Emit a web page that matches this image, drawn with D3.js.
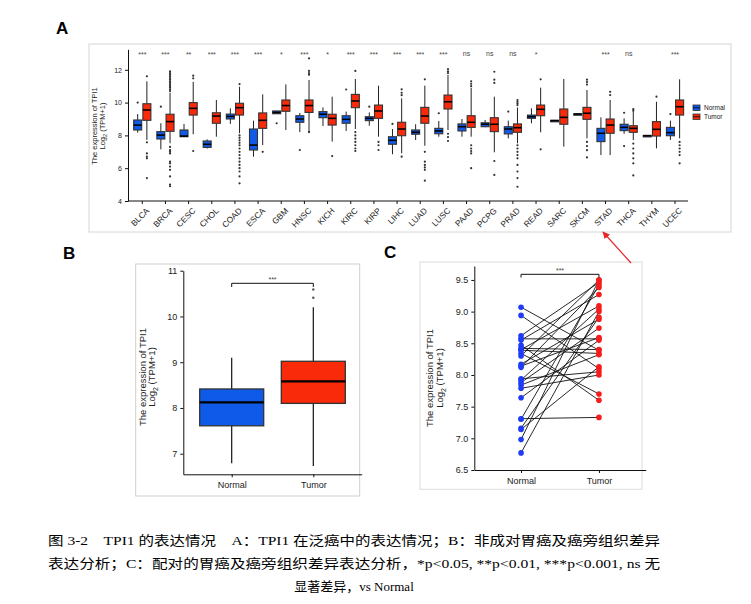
<!DOCTYPE html>
<html><head><meta charset="utf-8">
<script src="https://cdn.jsdelivr.net/npm/d3@7/dist/d3.min.js"></script>
<style>body{margin:0;background:#fff}svg{display:block}text{font-family:"Liberation Sans",Arial,sans-serif}</style>
</head><body><svg id="c" width="751" height="604"></svg>
<script>
// ---------- Panel A data ----------
const categories = ["BLCA","BRCA","CESC","CHOL","COAD","ESCA","GBM","HNSC","KICH","KIRC","KIRP","LIHC","LUAD","LUSC","PAAD","PCPG","PRAD","READ","SARC","SKCM","STAD","THCA","THYM","UCEC"];
const signif = ["***","***","**","***","***","***","*","***","*","***","***","***","***","***","ns","ns","ns","*","","","***","ns","","***"];
// [lower whisker, Q1, median, Q3, upper whisker]
const normalStats = [
 [8.17,8.33,8.63,8.94,9.3],[7.15,7.78,8.02,8.23,8.74],[7.9,7.92,7.96,8.33,8.7],[7.2,7.27,7.46,7.66,7.76],
 [8.7,9.0,9.16,9.3,9.65],[6.7,7.11,7.41,8.39,8.9],[9.32,9.32,9.4,9.49,9.49],[8.2,8.8,9.0,9.2,9.37],
 [8.57,9.08,9.29,9.45,9.71],[8.27,8.74,8.98,9.2,9.45],[8.59,8.9,9.04,9.14,9.4],[6.85,7.46,7.7,7.92,8.39],
 [7.72,8.07,8.19,8.33,8.68],[7.92,8.1,8.27,8.43,8.88],[7.92,8.27,8.53,8.7,9.0],[8.5,8.53,8.68,8.77,8.94],
 [7.82,8.09,8.39,8.53,8.9],[8.74,9.04,9.14,9.24,9.65],[8.9,8.88,8.9,8.92,8.9],[9.3,9.28,9.3,9.32,9.3],
 [6.8,7.62,8.13,8.43,9.1],[8.1,8.29,8.49,8.68,9.04],[7.98,7.96,7.98,8.0,7.98],[7.72,7.98,8.17,8.49,8.9]];
const normalOutliers = [[10.0],[9.75],[],[],[],[],[8.74],[7.11],[],[10.8],[9.75],[8.7],[],[9.35],[],[],[9.45],[],[],[],[],[9.38,7.35],[],[9.3]];
const tumorStats = [
 [7.72,8.92,9.55,9.93,11.3],[7.52,8.25,8.84,9.29,10.6],[8.07,9.24,9.65,10.0,11.27],[7.92,8.74,9.18,9.38,10.16],
 [8.13,9.24,9.69,9.96,10.97],[7.41,8.43,8.92,9.37,10.5],[8.33,9.47,9.82,10.16,11.11],[8.33,9.4,9.82,10.16,11.38],
 [7.62,8.63,9.04,9.29,10.36],[8.39,9.69,10.1,10.5,11.44],[7.92,9.04,9.49,9.85,11.03],[6.91,7.98,8.39,8.8,10.26],
 [7.37,8.74,9.18,9.71,11.03],[8.33,9.61,10.05,10.46,11.68],[7.92,8.49,8.8,9.2,10.9],[6.97,8.23,8.68,9.08,10.36],
 [7.52,8.19,8.47,8.7,9.7],[8.19,9.2,9.59,9.85,10.91],[7.31,8.68,9.1,9.61,11.44],[7.82,8.98,9.35,9.71,10.77],
 [6.8,8.13,8.63,9.0,10.16],[7.72,8.19,8.43,8.59,9.45],[7.21,7.96,8.37,8.84,10.05],[7.82,9.24,9.75,10.16,11.42]];
const tumorOutliers = [
 [11.6,7.58,6.9,6.7,6.6,5.4],
 [11.9,11.8,11.7,11.6,11.5,11.4,11.3,11.2,11.1,11.0,10.9,10.8,10.7,7.3,7.1,7.0,6.9,6.4,6.3,6.1,5.9,5.5,5.0,4.9],
 [11.64,11.48,7.05],[],
 [11.13,8.0,7.85,7.7,7.55,7.4,7.2,7.0,6.8,6.6,6.4,6.2,6.0,5.8,5.5,5.08],
 [7.0],[],[12.7,11.93,11.8,11.7,8.25,8.2],[6.74],
 [11.93,8.2,8.0,7.8,7.6,7.4,7.2,7.05],[7.6,7.4,7.11],[10.81,10.6,10.45,6.7],
 [11.42,7.0,6.4,6.2,6.05,5.9,5.24],[12.05,11.9,11.8,8.1,7.9,7.66],
 [11.3,11.15,11.0,7.4,7.2,7.05,6.9,6.0],[11.88,11.4,11.2,6.44,5.59],
 [10.16,10.05,9.95,9.85,7.4,7.2,7.0,6.8,6.6,6.2,5.8,5.4,4.87],[11.42,7.15],[],
 [11.4,11.25,11.1,7.6,7.35,7.1,6.66],[10.66,10.46],
 [9.6,9.5,7.5,7.2,6.9,6.6,6.3,5.56],[10.36],[7.6,7.4,7.2,7.0,6.8,6.3]];
const ticksA = [4,6,8,10,12];

// ---------- Panel B data (STAD unpaired) ----------
const groupsB = ["Normal","Tumor"];
const statsB = [[6.79,7.61,8.12,8.415,9.1],[6.73,8.10,8.58,9.02,10.2]];
const outliersB = [[],[10.41,10.59]];
const ticksB = [7,8,9,10,11];

// ---------- Panel C data (STAD paired) ----------
const pairedNormal = [9.07,8.94,8.62,8.57,8.55,8.47,8.42,8.40,8.39,8.34,8.30,8.17,8.14,8.12,7.94,7.92,7.88,7.84,7.79,7.64,7.31,7.30,7.16,7.14,6.98,6.77];
const pairedTumor  = [8.39,8.10,9.46,8.57,9.27,7.60,8.40,9.09,8.34,7.70,9.50,8.88,8.59,9.38,8.05,9.04,8.74,8.32,8.00,8.55,7.33,9.42,8.91,8.13,9.50,9.00];
const ticksC = [6.5,7.0,7.5,8.0,8.5,9.0,9.5];

const captionLines = [
 "图 3-2　TPI1 的表达情况　A：TPI1 在泛癌中的表达情况；B：非成对胃癌及癌旁组织差异",
 "表达分析；C：配对的胃癌及癌旁组织差异表达分析，*p<0.05, **p<0.01, ***p<0.001, ns 无",
 "显著差异，vs Normal"];

const BLUE = "#0f5ae8", RED = "#f92a0a";
const svg = d3.select("#c");
svg.append("rect").attr("width",751).attr("height",604).attr("fill","#fff");

// ================= Panel A =================
const gA = svg.append("g");
gA.append("rect").attr("x",89).attr("y",44).attr("width",642).attr("height",188)
  .attr("fill","none").attr("stroke","#d6d6d6").attr("stroke-width",1);
gA.append("text").attr("x",56).attr("y",34).attr("font-size",17).attr("font-weight","bold").text("A");

const yA = d3.scaleLinear().domain([4,13.25]).range([201,49.3]);
const xA = d3.scaleBand().domain(categories).range([130.7,686.6]);
const axL = gA.append("g").attr("transform","translate(128,0)")
  .call(d3.axisLeft(yA).tickValues(ticksA).tickFormat(d3.format("d")).tickSize(3).tickSizeOuter(0));
axL.selectAll("text").attr("font-size",7).attr("fill","#222");
axL.selectAll("line,path").attr("stroke","#111");
const axB = gA.append("g").attr("transform","translate(0,201)")
  .call(d3.axisBottom(xA).tickSize(3).tickSizeOuter(0));
axB.select("path").remove();
axB.selectAll("line").attr("stroke","#111");
axB.selectAll("text").attr("font-size",8.3).attr("fill","#222")
  .attr("text-anchor","end").attr("transform","translate(2,2) rotate(-45)").attr("dy","0.7em").attr("y",4).attr("x",-2);
gA.append("line").attr("x1",128).attr("x2",688).attr("y1",201).attr("y2",201).attr("stroke","#111");

const bw = 8;
function drawBoxA(stats, outs, off, color) {
  categories.forEach((c,i) => {
    const s = stats[i];
    const cx = xA(c) + xA.bandwidth()/2 + off;
    const g = gA.append("g");
    g.append("line").attr("x1",cx).attr("x2",cx).attr("y1",yA(s[4])).attr("y2",yA(s[3])).attr("stroke","#222").attr("stroke-width",1);
    g.append("line").attr("x1",cx).attr("x2",cx).attr("y1",yA(s[1])).attr("y2",yA(s[0])).attr("stroke","#222").attr("stroke-width",1);
    const top = yA(s[3]), bot = yA(s[1]);
    const h = Math.max(bot-top, 1.5);
    g.append("rect").attr("x",cx-bw/2).attr("y",top).attr("width",bw).attr("height",h)
      .attr("fill",color).attr("stroke","#333").attr("stroke-width",1.1);
    g.append("line").attr("x1",cx-bw/2).attr("x2",cx+bw/2).attr("y1",yA(s[2])).attr("y2",yA(s[2])).attr("stroke","#000").attr("stroke-width",1.6);
    outs[i].forEach(v => g.append("circle").attr("cx",cx).attr("cy",yA(v)).attr("r",1.1).attr("fill","#333"));
  });
}
drawBoxA(normalStats, normalOutliers, -4.6, BLUE);
drawBoxA(tumorStats, tumorOutliers, 4.6, RED);
categories.forEach((c,i) => {
  gA.append("text").attr("x",xA(c)+xA.bandwidth()/2).attr("y",signif[i]==="ns"?56:57)
    .attr("text-anchor","middle").attr("font-size",7).style("fill","#444").text(signif[i]);
});
gA.append("text").attr("transform","translate(97,126) rotate(-90)").attr("text-anchor","middle").attr("font-size",7.5).attr("fill","#222").text("The expression of TPI1");
const yt2 = gA.append("text").attr("transform","translate(105,126) rotate(-90)").attr("text-anchor","middle").attr("font-size",7.5).attr("fill","#222");
yt2.append("tspan").text("Log");
yt2.append("tspan").attr("font-size",5.5).attr("dy",2).text("2");
yt2.append("tspan").attr("dy",-2).text(" (TPM+1)");
// legend
[["Normal",BLUE,105],["Tumor",RED,114]].forEach(([t,c,y]) => {
  gA.append("rect").attr("x",693).attr("y",y).attr("width",7).attr("height",5.5).attr("fill",c).attr("stroke","#333").attr("stroke-width",0.8);
  gA.append("line").attr("x1",693).attr("x2",700).attr("y1",y+2.75).attr("y2",y+2.75).attr("stroke","#000").attr("stroke-width",0.8);
  gA.append("text").attr("x",704).attr("y",y+5).attr("font-size",6.5).attr("fill","#222").text(t);
});

// ================= Panel B =================
const gB = svg.append("g");
gB.append("rect").attr("x",135.7).attr("y",264).attr("width",224).attr("height",232)
  .attr("fill","none").attr("stroke","#cfcfcf");
gB.append("text").attr("x",63).attr("y",259).attr("font-size",17).attr("font-weight","bold").text("B");
const yB = d3.scaleLinear().domain([6.55,11]).range([474.3,270.7]);
const xB = d3.scalePoint().domain(groupsB).range([183.3,361.7]).padding(0.593);
const bL = gB.append("g").attr("transform","translate(183.3,0)").call(d3.axisLeft(yB).tickValues(ticksB).tickFormat(d3.format("d")).tickSize(3).tickSizeOuter(0));
bL.selectAll("text").attr("font-size",9).attr("fill","#222");
const bX = gB.append("g").attr("transform","translate(0,474.3)").call(d3.axisBottom(xB).tickSize(3).tickSizeOuter(0));
bX.selectAll("text").attr("font-size",9).attr("fill","#222").attr("dy","0.9em");
gB.selectAll("path,line").attr("stroke","#111").attr("stroke-width",1);
const bwB = 64;
groupsB.forEach((gname,i) => {
  const s = statsB[i], cx = xB(gname), col = i===0?BLUE:RED;
  gB.append("line").attr("x1",cx).attr("x2",cx).attr("y1",yB(s[4])).attr("y2",yB(s[0])).attr("stroke","#111").attr("stroke-width",1.2);
  gB.append("rect").attr("x",cx-bwB/2).attr("y",yB(s[3])).attr("width",bwB).attr("height",yB(s[1])-yB(s[3]))
    .attr("fill",col).attr("stroke","#333").attr("stroke-width",1.3);
  gB.append("line").attr("x1",cx-bwB/2).attr("x2",cx+bwB/2).attr("y1",yB(s[2])).attr("y2",yB(s[2])).attr("stroke","#000").attr("stroke-width",2.2);
  outliersB[i].forEach(v => gB.append("circle").attr("cx",cx).attr("cy",yB(v)).attr("r",1.2).attr("fill","#555"));
});
gB.append("path").attr("d",`M${xB("Normal")},287 V283.3 H${xB("Tumor")} V287`).attr("fill","none").attr("stroke","#111");
gB.append("text").attr("x",(xB("Normal")+xB("Tumor"))/2).attr("y",282).attr("text-anchor","middle").attr("font-size",7).style("fill","#444").text("***");
gB.append("text").attr("transform","translate(146,377) rotate(-90)").attr("text-anchor","middle").attr("font-size",9.5).attr("fill","#222").text("The expression of TPI1");
const bt2 = gB.append("text").attr("transform","translate(155,377) rotate(-90)").attr("text-anchor","middle").attr("font-size",9.5).attr("fill","#222");
bt2.append("tspan").text("Log");
bt2.append("tspan").attr("font-size",7).attr("dy",2.5).text("2");
bt2.append("tspan").attr("dy",-2.5).text(" (TPM+1)");

// ================= Panel C =================
const gC = svg.append("g");
gC.append("rect").attr("x",420).attr("y",262).attr("width",222).attr("height",227.3)
  .attr("fill","none").attr("stroke","#dcdcdc");
gC.append("text").attr("x",384).attr("y",258).attr("font-size",17).attr("font-weight","bold").text("C");
const yC = d3.scaleLinear().domain([6.5,9.72]).range([470,266]);
const xC = d3.scalePoint().domain(groupsB).range([474.3,645.7]).padding(0.6);
const cL = gC.append("g").attr("transform","translate(474.3,0)").call(d3.axisLeft(yC).tickValues(ticksC).tickFormat(d3.format(".1f")).tickSize(3).tickSizeOuter(0));
cL.selectAll("text").attr("font-size",9).attr("fill","#222");
const cX = gC.append("g").attr("transform","translate(0,470)").call(d3.axisBottom(xC).tickSize(3).tickSizeOuter(0));
cX.selectAll("text").attr("font-size",9).attr("fill","#222").attr("dy","0.9em");
gC.selectAll("path,line").attr("stroke","#111");
pairedNormal.forEach((v,i) => {
  gC.append("line").attr("x1",xC("Normal")).attr("x2",xC("Tumor")).attr("y1",yC(v)).attr("y2",yC(pairedTumor[i]))
    .attr("stroke","#111").attr("stroke-width",0.9);
});
pairedNormal.forEach(v => gC.append("circle").attr("cx",xC("Normal")).attr("cy",yC(v)).attr("r",2.8).attr("fill","#1f3cf5"));
pairedTumor.forEach(v => gC.append("circle").attr("cx",xC("Tumor")).attr("cy",yC(v)).attr("r",2.8).attr("fill","#f41c1c"));
gC.append("path").attr("d",`M${xC("Normal")},277.5 V274.3 H${xC("Tumor")} V277.5`).attr("fill","none").attr("stroke","#111");
gC.append("text").attr("x",(xC("Normal")+xC("Tumor"))/2).attr("y",273).attr("text-anchor","middle").attr("font-size",7).style("fill","#444").text("***");
gC.append("text").attr("transform","translate(433,378) rotate(-90)").attr("text-anchor","middle").attr("font-size",9.5).attr("fill","#222").text("The expression of TPI1");
const ct2 = gC.append("text").attr("transform","translate(443,378) rotate(-90)").attr("text-anchor","middle").attr("font-size",9.5).attr("fill","#222");
ct2.append("tspan").text("Log");
ct2.append("tspan").attr("font-size",7).attr("dy",2.5).text("2");
ct2.append("tspan").attr("dy",-2.5).text(" (TPM+1)");

// red arrow annotation
svg.append("defs").append("marker").attr("id","ah").attr("viewBox","0 0 10 10").attr("refX",9).attr("refY",5)
  .attr("markerWidth",6).attr("markerHeight",6).attr("orient","auto")
  .append("path").attr("d","M0,0 L10,5 L0,10 z").attr("fill","#e8262a");
svg.append("line").attr("x1",631).attr("y1",263).attr("x2",603).attr("y2",232).attr("stroke","#e8262a").attr("stroke-width",1.2).attr("marker-end","url(#ah)");

// ================= Caption =================
const capFont = "'Liberation Serif','Times New Roman','Noto Sans CJK SC',serif";
svg.append("text").attr("x",48).attr("y",545).attr("font-size",13).style("font-family",capFont).attr("textLength",612).attr("lengthAdjust","spacingAndGlyphs").text(captionLines[0]);
svg.append("text").attr("x",48).attr("y",568).attr("font-size",13).style("font-family",capFont).attr("textLength",612).attr("lengthAdjust","spacingAndGlyphs").text(captionLines[1]);
svg.append("text").attr("x",354).attr("y",591).attr("font-size",13).attr("text-anchor","middle").style("font-family",capFont).text(captionLines[2]);
</script></body></html>
